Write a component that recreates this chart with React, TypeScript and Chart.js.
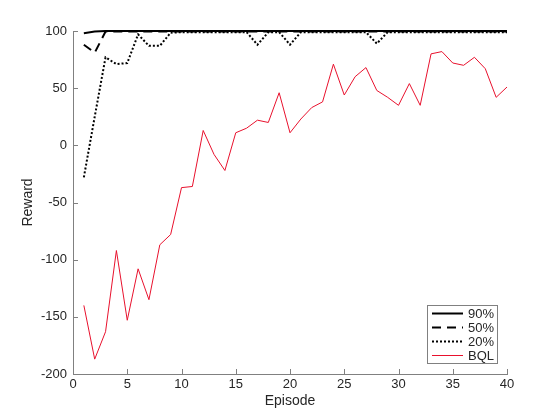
import React, { useEffect, useRef } from "react";
import { Chart, registerables } from "chart.js";

Chart.register(...registerables);

const episodes = Array.from({ length: 40 }, (_, i) => i + 1);

const series90 = [98, 99.5, 100, 100, 100, 100, 100, 100, 100, 100, 100, 100, 100, 100, 100, 100, 100, 100, 100, 100, 100, 100, 100, 100, 100, 100, 100, 100, 100, 100, 100, 100, 100, 100, 100, 100, 100, 100, 100, 100];
const series50 = [88, 81, 99.5, 99.5, 99.5, 99.5, 99.5, 99.5, 99.5, 99.5, 99.5, 99.5, 99.5, 99.5, 99.5, 99.5, 99.5, 99.5, 99.5, 99.5, 99.5, 99.5, 99.5, 99.5, 99.5, 99.5, 99.5, 99.5, 99.5, 99.5, 99.5, 99.5, 99.5, 99.5, 99.5, 99.5, 99.5, 99.5, 99.5, 99.5];
const series20 = [-28, 25, 77, 71, 72, 97, 87, 87, 98.5, 99, 99, 99, 99, 99, 99, 99, 88, 99, 99, 88, 99, 99, 99, 99, 99, 99, 99, 89, 99, 99, 99, 99, 99, 99, 99, 99, 99, 99, 99, 99];
const seriesBQL = [-140, -187, -163, -92, -153, -108, -135, -87, -78, -37, -36, 13, -8, -22, 11, 15, 22, 20, 46, 11, 23, 33, 38, 71, 44, 60, 68, 48, 42, 35, 54, 35, 80, 82, 72, 70, 77, 67, 42, 51];

const yTicks = [-200, -150, -100, -50, 0, 50, 100];
const xTicks = [0, 5, 10, 15, 20, 25, 30, 35, 40];

const FONT = "'Liberation Sans', Arial, Helvetica, sans-serif";
const AXIS_COLOR = "#808080";
const TEXT_COLOR = "#262626";

const innerTicksPlugin = {
  id: "innerTicks",
  afterDraw(chart: any) {
    const { ctx, chartArea, scales } = chart;
    ctx.save();
    ctx.strokeStyle = AXIS_COLOR;
    ctx.lineWidth = 1;
    ctx.beginPath();
    for (const v of xTicks) {
      const x = Math.round(scales.x.getPixelForValue(v)) + 0.5;
      ctx.moveTo(x, chartArea.bottom);
      ctx.lineTo(x, chartArea.bottom - 5);
    }
    for (const v of yTicks) {
      const y = Math.round(scales.y.getPixelForValue(v)) + 0.5;
      ctx.moveTo(chartArea.left, y);
      ctx.lineTo(chartArea.left + 5, y);
    }
    ctx.stroke();

    // legend box
    const bx = 427, by = 305, bw = 70, bh = 58;
    ctx.fillStyle = "#ffffff";
    ctx.fillRect(bx, by, bw, bh);
    ctx.strokeStyle = AXIS_COLOR;
    ctx.lineWidth = 1;
    ctx.strokeRect(bx + 0.5, by + 0.5, bw, bh);
    ctx.font = `13px ${FONT}`;
    ctx.textBaseline = "middle";
    ctx.textAlign = "right";
    chart.data.datasets.forEach((ds: any, i: number) => {
      const y = by + 8 + i * 14;
      ctx.beginPath();
      ctx.strokeStyle = ds.borderColor;
      ctx.lineWidth = ds.borderWidth;
      ctx.setLineDash(ds.borderDash || []);
      ctx.moveTo(bx + 5, y + 0.5);
      ctx.lineTo(bx + 36, y + 0.5);
      ctx.stroke();
      ctx.setLineDash([]);
      ctx.fillStyle = TEXT_COLOR;
      ctx.fillText(ds.label, bx + bw - 3, y + 1);
    });
    ctx.restore();
  },
};

export default function App() {
  const canvasRef = useRef<HTMLCanvasElement | null>(null);

  useEffect(() => {
    if (!canvasRef.current) return;
    const chart = new Chart(canvasRef.current, {
      type: "line",
      data: {
        labels: episodes,
        datasets: [
          { label: "90%", data: episodes.map((e, i) => ({ x: e, y: series90[i] })), borderColor: "#000000", borderWidth: 2, pointRadius: 0, tension: 0, fill: false },
          { label: "50%", data: episodes.map((e, i) => ({ x: e, y: series50[i] })), borderColor: "#000000", borderWidth: 2, borderDash: [9, 6], pointRadius: 0, tension: 0, fill: false },
          { label: "20%", data: episodes.map((e, i) => ({ x: e, y: series20[i] })), borderColor: "#000000", borderWidth: 2, borderDash: [2, 2], pointRadius: 0, tension: 0, fill: false },
          { label: "BQL", data: episodes.map((e, i) => ({ x: e, y: seriesBQL[i] })), borderColor: "#e8112d", borderWidth: 1, pointRadius: 0, tension: 0, fill: false },
        ],
      },
      options: {
        animation: false,
        responsive: false,
        maintainAspectRatio: false,
        clip: false as any,
        layout: { padding: { left: 20, right: 53, top: 31, bottom: 10 } },
        plugins: { legend: { display: false }, tooltip: { enabled: false } },
        scales: {
          x: {
            type: "linear",
            min: 0,
            max: 40,
            afterBuildTicks: (s: any) => { s.ticks = xTicks.map((v) => ({ value: v })); },
            afterFit: (s: any) => { s.height = 36; },
            grid: { display: false, drawTicks: false },
            border: { display: true, color: AXIS_COLOR, width: 1 },
            ticks: { color: TEXT_COLOR, font: { family: FONT, size: 13 }, padding: 3, maxRotation: 0 },
            title: { display: true, text: "Episode", color: TEXT_COLOR, font: { family: FONT, size: 14 }, padding: { top: 0, bottom: 0 } },
          },
          y: {
            type: "linear",
            min: -200,
            max: 100,
            afterBuildTicks: (s: any) => { s.ticks = yTicks.map((v) => ({ value: v })); },
            afterFit: (s: any) => { s.width = 53; },
            grid: { display: false, drawTicks: false },
            border: { display: true, color: AXIS_COLOR, width: 1 },
            ticks: { color: TEXT_COLOR, font: { family: FONT, size: 13 }, padding: 6 },
            title: { display: true, text: "Reward", color: TEXT_COLOR, font: { family: FONT, size: 14 }, padding: { top: 0, bottom: 0 } },
          },
        },
      },
      plugins: [innerTicksPlugin],
    });
    return () => chart.destroy();
  }, []);

  return (
    <div style={{ position: "fixed", left: 0, top: 0, width: 560, height: 420, background: "#fff" }}>
      <canvas ref={canvasRef} width={560} height={420} style={{ width: 560, height: 420 }} />
    </div>
  );
}
